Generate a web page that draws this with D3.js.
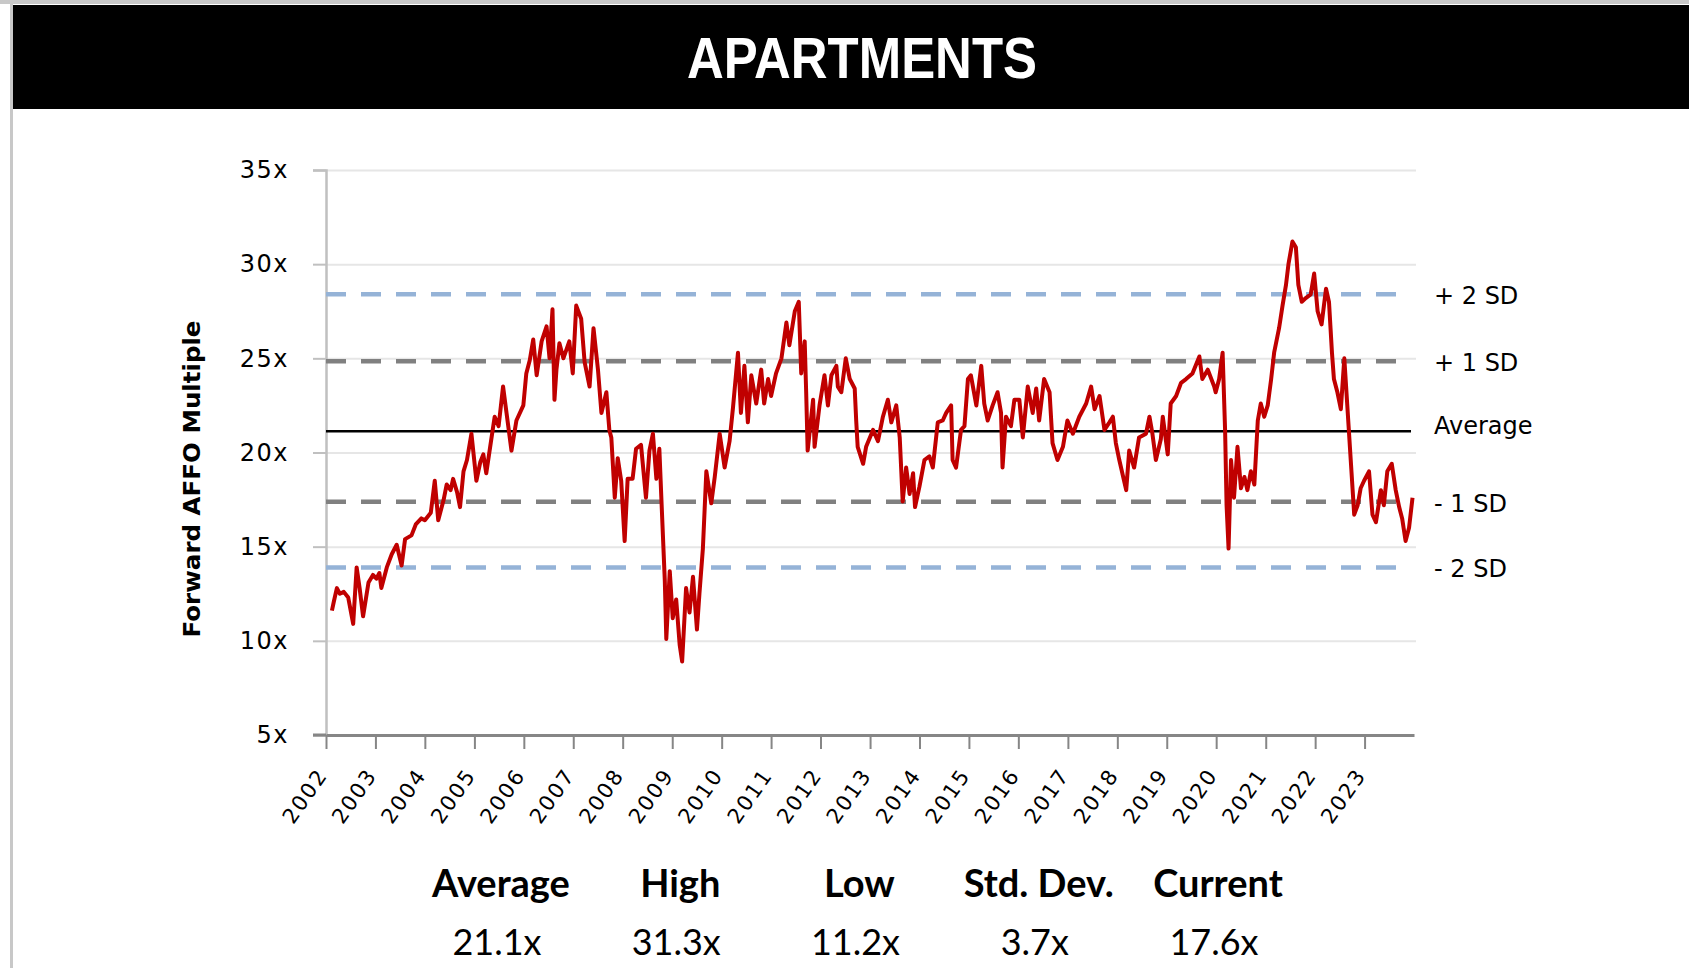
<!DOCTYPE html>
<html>
<head>
<meta charset="utf-8">
<script src="https://cdn.jsdelivr.net/npm/d3@7"></script>
<style>
  body { margin: 0; background: #fff; }
  svg { display: block; }
</style>
</head>
<body>
<script>
var width = 1689, height = 968;

// reading dates (decimal years), one row per year
var dates = [
  2002.12,2002.16,2002.22,2002.28,2002.36,2002.45,2002.55,2002.62,2002.68,2002.75,2002.86,2002.95,
  2003.02,2003.08,2003.12,2003.23,2003.33,2003.43,2003.53,2003.60,2003.73,2003.82,2003.93,
  2004.00,2004.12,2004.20,2004.27,2004.38,2004.44,2004.52,2004.57,2004.65,2004.71,2004.78,2004.85,2004.94,
  2005.04,2005.12,2005.18,2005.24,2005.33,2005.41,2005.49,2005.58,2005.65,2005.75,2005.85,2005.99,
  2006.05,2006.12,2006.19,2006.26,2006.36,2006.46,2006.52,2006.58,2006.62,2006.66,2006.72,2006.80,2006.92,2006.99,
  2007.06,2007.16,2007.23,2007.33,2007.41,2007.50,2007.57,2007.67,2007.73,2007.77,2007.84,2007.90,2007.97,
  2008.04,2008.10,2008.20,2008.27,2008.37,2008.47,2008.54,2008.61,2008.68,2008.74,2008.78,2008.85,2008.88,2008.95,
  2009.01,2009.08,2009.15,2009.20,2009.28,2009.35,2009.42,2009.50,2009.55,2009.62,2009.69,2009.79,2009.86,2009.96,
  2010.06,2010.16,2010.23,2010.33,2010.39,2010.46,2010.53,2010.60,2010.70,2010.80,2010.86,2010.94,
  2011.00,2011.10,2011.21,2011.31,2011.37,2011.48,2011.56,2011.61,2011.68,2011.71,2011.74,2011.85,2011.88,2011.98,
  2012.08,2012.15,2012.22,2012.32,2012.35,2012.42,2012.51,2012.59,2012.69,2012.72,2012.75,2012.86,2012.92,
  2013.06,2013.16,2013.26,2013.36,2013.43,2013.53,2013.60,2013.66,2013.73,2013.80,2013.87,2013.91,
  2014.00,2014.10,2014.20,2014.27,2014.37,2014.47,2014.54,2014.64,2014.67,2014.74,2014.84,2014.91,2014.98,
  2015.04,2015.15,2015.25,2015.31,2015.38,2015.48,2015.58,2015.65,2015.68,2015.75,2015.85,2015.92,
  2016.02,2016.09,2016.19,2016.29,2016.36,2016.42,2016.52,2016.63,2016.69,2016.79,2016.90,2016.99,
  2017.10,2017.23,2017.37,2017.47,2017.54,2017.64,2017.74,2017.84,2017.91,2017.97,
  2018.04,2018.18,2018.24,2018.34,2018.44,2018.58,2018.65,2018.71,2018.78,2018.88,2018.92,
  2019.02,2019.08,2019.19,2019.29,2019.39,2019.52,2019.66,2019.72,2019.83,2019.96,2019.99,
  2020.06,2020.13,2020.18,2020.21,2020.25,2020.30,2020.36,2020.43,2020.50,2020.57,2020.63,2020.70,2020.77,2020.84,2020.90,2020.97,
  2021.04,2021.11,2021.17,2021.27,2021.34,2021.41,2021.46,2021.54,2021.61,2021.66,2021.73,2021.81,2021.91,2021.98,
  2022.05,2022.13,2022.22,2022.28,2022.34,2022.38,2022.45,2022.52,2022.59,2022.65,2022.72,2022.79,2022.86,2022.92,2022.99,
  2023.09,2023.16,2023.23,2023.33,2023.39,2023.46,2023.55,2023.63,2023.70,2023.76,2023.83,2023.90,2023.97
];

// forward AFFO multiple at each date
var multiple = [
  11.6,12.1,12.8,12.5,12.6,12.3,10.9,13.9,12.8,11.3,13.1,13.5,
  13.3,13.6,12.8,13.9,14.6,15.1,14.0,15.4,15.6,16.2,16.5,
  16.4,16.8,18.5,16.4,17.5,18.3,18.0,18.6,17.9,17.1,19.0,19.6,21.0,
  18.5,19.5,19.9,18.9,20.5,21.9,21.4,23.5,22.1,20.1,21.7,22.5,
  24.2,24.9,26.0,24.1,25.9,26.7,25.0,27.6,22.8,24.4,25.8,25.0,25.9,24.2,
  27.8,27.1,24.8,23.5,26.6,24.4,22.1,23.2,21.2,20.8,17.6,19.7,18.5,
  15.3,18.6,18.6,20.2,20.4,17.6,20.1,21.0,18.6,20.2,17.6,13.2,10.1,13.7,
  11.2,12.2,9.8,8.9,12.8,11.5,13.4,10.6,12.5,14.9,19.0,17.3,18.7,21.0,
  19.2,20.6,22.4,25.3,22.1,24.6,21.6,24.1,22.6,24.4,22.6,23.9,
  23.0,24.2,25.0,26.9,25.7,27.5,28.0,24.2,25.9,23.2,20.1,22.8,20.3,22.5,
  24.1,22.5,24.1,24.6,23.5,23.2,25.0,23.9,23.4,21.7,20.3,19.4,20.3,
  21.2,20.6,21.9,22.8,21.6,22.5,20.8,17.4,19.2,17.8,18.9,17.1,
  18.2,19.6,19.8,19.2,21.6,21.7,22.1,22.5,19.6,19.2,21.2,21.4,23.9,
  24.1,22.5,24.6,22.6,21.7,22.5,23.2,22.1,19.2,21.9,21.4,22.8,
  22.8,20.8,23.5,22.1,23.4,21.7,23.9,23.2,20.5,19.6,20.3,21.7,
  21.0,21.9,22.6,23.5,22.3,23.0,21.2,21.6,21.9,20.5,
  19.6,18.0,20.1,19.2,20.8,21.0,21.9,21.0,19.6,20.7,21.9,
  19.9,22.6,23.0,23.7,23.9,24.2,25.1,23.9,24.4,23.5,23.2,
  23.9,25.3,21.2,17.2,14.9,19.6,17.6,20.3,18.1,18.7,18.0,19.0,18.3,21.7,22.6,21.9,
  22.5,23.9,25.3,26.6,27.8,28.9,30.0,31.2,30.9,28.9,28.0,28.2,28.4,29.5,
  27.5,26.8,28.7,28.0,25.3,23.9,23.2,22.3,25.0,22.5,19.6,16.7,17.2,18.1,18.5,
  19.0,16.7,16.3,18.0,17.2,19.0,19.4,18.0,17.1,16.5,15.3,16.0,17.6
];

var yTicks = [5, 10, 15, 20, 25, 30, 35];
var yearTicks = d3.range(2002, 2024);

// reference lines: +2 SD, +1 SD, average, -1 SD, -2 SD
var bandValues = [28.4, 24.85, 21.13, 17.38, 13.9];
var bandLabels = ['+ 2 SD', '+ 1 SD', 'Average', '- 1 SD', '- 2 SD'];

var statLabels = ['Average', 'High', 'Low', 'Std. Dev.', 'Current'];
var statValues = ['21.1x', '31.3x', '11.2x', '3.7x', '17.6x'];

function toDate(t) {
  var yr = Math.floor(t);
  var s = new Date(yr, 0, 1), e = new Date(yr + 1, 0, 1);
  return new Date(+s + (t - yr) * (e - s));
}

var series = dates.map(function(d, i) { return {date: toDate(d), value: multiple[i]}; });

var plotLeft = 326, plotRight = 1414, plotTop = 170, plotBottom = 735;

var x = d3.scaleTime()
  .domain([new Date(2002, 0, 1), new Date(2024, 0, 1)])
  .range([plotLeft, plotRight]);
var y = d3.scaleLinear().domain([5, 35]).range([plotBottom, plotTop]);

var svg = d3.select('body').append('svg')
  .attr('width', width)
  .attr('height', height);

svg.append('rect').attr('width', width).attr('height', height).attr('fill', '#fff');

// frame and title bar
svg.append('rect').attr('x', 0).attr('y', 0).attr('width', width).attr('height', 4).attr('fill', '#c8c8c8');
svg.append('rect').attr('x', 10).attr('y', 0).attr('width', 3).attr('height', height).attr('fill', '#c8c8c8');
svg.append('rect').attr('x', 13).attr('y', 5).attr('width', width - 13).attr('height', 104).attr('fill', '#000');

svg.append('text')
  .attr('x', 862).attr('y', 78)
  .attr('text-anchor', 'middle')
  .attr('fill', '#fff')
  .attr('font-family', '"Liberation Sans Narrow", "Liberation Sans", Arial, sans-serif')
  .attr('font-weight', 'bold')
  .attr('font-size', 58)
  .attr('textLength', 350)
  .attr('lengthAdjust', 'spacingAndGlyphs')
  .text('APARTMENTS');

// gridlines
svg.append('g')
  .attr('transform', 'translate(' + plotLeft + ',0)')
  .call(d3.axisLeft(y).tickValues(yTicks.slice(1)).tickSize(-(plotRight - plotLeft + 2)).tickFormat(''))
  .call(function(g) {
    g.select('.domain').remove();
    g.selectAll('line').attr('stroke', '#e6e6e6').attr('stroke-width', 2);
  });

// y axis
svg.append('g')
  .attr('transform', 'translate(' + plotLeft + ',0)')
  .call(d3.axisLeft(y).tickValues(yTicks).tickSize(13).tickPadding(24).tickFormat(function(d) { return d + 'x'; }))
  .call(function(g) {
    g.select('.domain').attr('stroke', '#c0c0c0').attr('stroke-width', 2.5);
    g.selectAll('line').attr('stroke', '#c0c0c0').attr('stroke-width', 2);
    g.selectAll('text')
      .attr('font-family', '"DejaVu Sans", Verdana, sans-serif')
      .attr('font-size', 24)
      .attr('letter-spacing', 1.5)
      .attr('fill', '#000');
  });

// x axis
svg.append('g')
  .attr('transform', 'translate(0,' + plotBottom + ')')
  .call(d3.axisBottom(x)
    .tickValues(yearTicks.map(function(d) { return new Date(d, 0, 1); }))
    .tickSize(14).tickSizeOuter(0)
    .tickFormat(d3.timeFormat('%Y')))
  .call(function(g) {
    g.select('.domain').attr('stroke', '#868686').attr('stroke-width', 3);
    g.selectAll('line').attr('stroke', '#868686').attr('stroke-width', 2);
    g.selectAll('text')
      .attr('font-family', '"DejaVu Sans", Verdana, sans-serif')
      .attr('font-size', 21)
      .attr('letter-spacing', 2)
      .attr('fill', '#000')
      .attr('text-anchor', 'end')
      .attr('y', 0).attr('dy', 0)
      .attr('transform', 'translate(2,40) rotate(-55)');
  });
svg.append('line')
  .attr('x1', plotLeft - 13).attr('x2', plotLeft)
  .attr('y1', plotBottom).attr('y2', plotBottom)
  .attr('stroke', '#868686').attr('stroke-width', 3);

// y axis title
svg.append('text')
  .attr('transform', 'translate(200,479) rotate(-90)')
  .attr('text-anchor', 'middle')
  .attr('font-family', '"DejaVu Sans", Verdana, sans-serif')
  .attr('font-weight', 'bold')
  .attr('font-size', 23)
  .attr('textLength', 317)
  .attr('lengthAdjust', 'spacingAndGlyphs')
  .text('Forward AFFO Multiple');

// band lines
var bandStyle = [
  {color: '#95b3d7', width: 4.5, dash: '20,15'},
  {color: '#808080', width: 4.5, dash: '20,15'},
  {color: '#000', width: 2.5, dash: null},
  {color: '#808080', width: 4.5, dash: '20,15'},
  {color: '#95b3d7', width: 4.5, dash: '20,15'}
];

svg.append('g').selectAll('line')
  .data(bandValues)
  .enter()
  .append('line')
  .attr('x1', plotLeft).attr('x2', plotRight - 3)
  .attr('y1', function(d) { return y(d); })
  .attr('y2', function(d) { return y(d); })
  .attr('stroke', function(d, i) { return bandStyle[i].color; })
  .attr('stroke-width', function(d, i) { return bandStyle[i].width; })
  .attr('stroke-dasharray', function(d, i) { return bandStyle[i].dash; });

svg.append('g').selectAll('text')
  .data(bandValues)
  .enter()
  .append('text')
  .attr('x', 1434)
  .attr('y', function(d, i) { return y(d) + (i == 2 ? -4 : 3); })
  .attr('dominant-baseline', 'middle')
  .attr('font-family', '"DejaVu Sans", Verdana, sans-serif')
  .attr('font-size', 24)
  .attr('fill', '#000')
  .text(function(d, i) { return bandLabels[i]; });

// the multiple
var line = d3.line()
  .x(function(d) { return x(d.date); })
  .y(function(d) { return y(d.value); });

svg.append('path')
  .datum(series)
  .attr('d', line)
  .attr('fill', 'none')
  .attr('stroke', '#c00000')
  .attr('stroke-width', 4)
  .attr('stroke-linejoin', 'round');

// summary stats
var sx = d3.scalePoint().domain(statLabels).range([501, 1218]);

svg.append('g').selectAll('text')
  .data(statLabels)
  .enter()
  .append('text')
  .attr('x', function(d) { return sx(d); })
  .attr('y', 897)
  .attr('text-anchor', 'middle')
  .attr('font-family', 'Lato, "Open Sans", sans-serif')
  .attr('font-weight', 'bold')
  .attr('font-size', 38)
  .text(function(d) { return d; });

svg.append('g').selectAll('text')
  .data(statValues)
  .enter()
  .append('text')
  .attr('x', function(d, i) { return sx(statLabels[i]) - 4; })
  .attr('y', 955)
  .attr('text-anchor', 'middle')
  .attr('font-family', 'Lato, "Open Sans", sans-serif')
  .attr('font-size', 36)
  .text(function(d) { return d; });
</script>
</body>
</html>
